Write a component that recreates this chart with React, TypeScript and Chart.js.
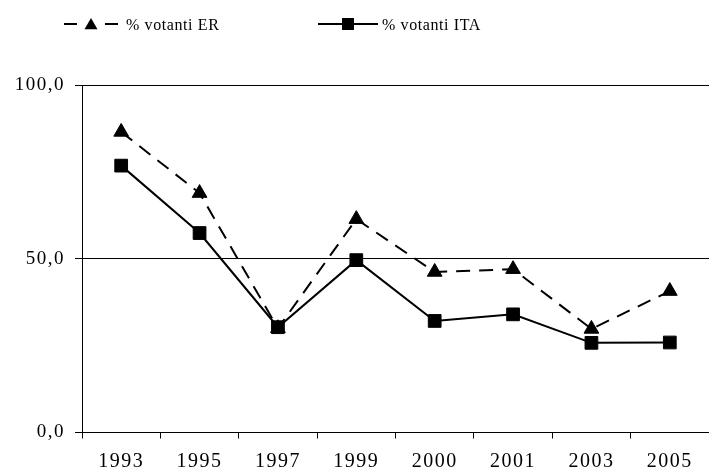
import React, { useEffect, useRef } from "react";
import { Chart, registerables } from "chart.js";

Chart.register(...registerables);

const years = ["1993", "1995", "1997", "1999", "2000", "2001", "2003", "2005"];
const erLabel = "% votanti ER";
const itaLabel = "% votanti ITA";
const erValues = [86.5, 68.9, 30.0, 61.4, 46.2, 47.0, 29.8, 40.7];
const itaValues = [76.8, 57.4, 30.3, 49.6, 32.1, 34.0, 25.8, 25.9];
const yTicks = [0, 50, 100];

const FONT = "'Liberation Serif', 'Times New Roman', serif";

const spacingPlugin = {
  id: "letterSpacing",
  beforeUpdate(chart: any) {
    (chart.ctx as any).letterSpacing = "1.5px";
  },
  beforeDraw(chart: any) {
    (chart.ctx as any).letterSpacing = "1.5px";
  },
};

const legendPlugin = {
  id: "customLegend",
  afterDraw(chart: any) {
    const ctx = chart.ctx as CanvasRenderingContext2D;
    const items = [
      { ds: chart.data.datasets[0], x0: 64, x1: 118, tx: 126 },
      { ds: chart.data.datasets[1], x0: 318, x1: 378, tx: 382 },
    ];
    const y = 24;
    items.forEach((it) => {
      const ds = it.ds;
      ctx.save();
      ctx.strokeStyle = "#000";
      ctx.lineWidth = 2;
      ctx.beginPath();
      if (ds.borderDash && ds.borderDash.length) {
        ctx.moveTo(it.x0, y);
        ctx.lineTo(it.x0 + 13, y);
        ctx.moveTo(it.x1 - 13, y);
        ctx.lineTo(it.x1, y);
      } else {
        ctx.moveTo(it.x0, y);
        ctx.lineTo(it.x1, y);
      }
      ctx.stroke();
      ctx.fillStyle = "#000";
      const cx = (it.x0 + it.x1) / 2;
      if (ds.pointStyle === "triangle") {
        const r = 7.5;
        ctx.beginPath();
        ctx.moveTo(cx, y - r + 1.5);
        ctx.lineTo(cx + r * 0.866, y + r * 0.5 + 1.5);
        ctx.lineTo(cx - r * 0.866, y + r * 0.5 + 1.5);
        ctx.closePath();
        ctx.fill();
      } else {
        ctx.fillRect(cx - 6, y - 6, 12, 12);
      }
      (ctx as any).letterSpacing = "0.6px";
      ctx.font = `16px ${FONT}`;
      ctx.textBaseline = "middle";
      ctx.textAlign = "left";
      ctx.fillText(ds.label, it.tx, y + 2);
      ctx.restore();
    });
  },
};

export default function App() {
  const ref = useRef<HTMLCanvasElement | null>(null);
  useEffect(() => {
    if (!ref.current) return;
    const chart = new Chart(ref.current, {
      type: "line",
      data: {
        labels: years,
        datasets: [
          {
            label: erLabel,
            data: erValues,
            borderColor: "#000",
            backgroundColor: "#000",
            borderWidth: 2,
            borderDash: [14, 9],
            pointStyle: "triangle",
            pointRadius: 8.5,
            pointBorderWidth: 1,
            pointBorderColor: "#000",
            pointBackgroundColor: "#000",
            tension: 0,
          },
          {
            label: itaLabel,
            data: itaValues,
            borderColor: "#000",
            backgroundColor: "#000",
            borderWidth: 2,
            pointStyle: "rect",
            pointRadius: 9,
            pointBorderWidth: 1,
            pointBackgroundColor: "#000",
            pointBorderColor: "#000",
            tension: 0,
          },
        ],
      },
      options: {
        animation: false,
        responsive: false,
        layout: { padding: { left: 0, right: 0, top: 85, bottom: 0 } },
        plugins: {
          legend: { display: false },
          tooltip: { enabled: false },
        },
        scales: {
          x: {
            offset: true,
            grid: {
              offset: true,
              drawOnChartArea: false,
              color: "#000",
              tickLength: 6,
              tickWidth: 1,
            },
            border: { color: "#000", width: 1 },
            ticks: {
              color: "#000",
              font: { family: FONT, size: 20 },
              padding: 11,
              maxRotation: 0,
              autoSkip: false,
            },
            afterFit(scale: any) {
              scale.height = 470 - 432.5;
            },
          },
          y: {
            min: 0,
            max: 100,
            afterBuildTicks(scale: any) {
              scale.ticks = yTicks.map((v) => ({ value: v }));
            },
            grid: {
              color: "#000",
              lineWidth: 1,
              tickLength: 7,
            },
            border: { color: "#000", width: 1 },
            ticks: {
              color: "#000",
              font: { family: FONT, size: 19 },
              padding: 10,
              callback: (v: any) => Number(v).toFixed(1).replace(".", ","),
            },
            afterFit(scale: any) {
              scale.width = 82;
            },
          },
        },
      },
      plugins: [spacingPlugin, legendPlugin],
    });
    return () => chart.destroy();
  }, []);
  return (
    <div
      style={{
        position: "fixed",
        left: 0,
        top: 0,
        width: 709,
        height: 470,
        overflow: "hidden",
        background: "#fff",
      }}
    >
      <canvas ref={ref} width={719} height={470} style={{ display: "block" }} />
    </div>
  );
}
